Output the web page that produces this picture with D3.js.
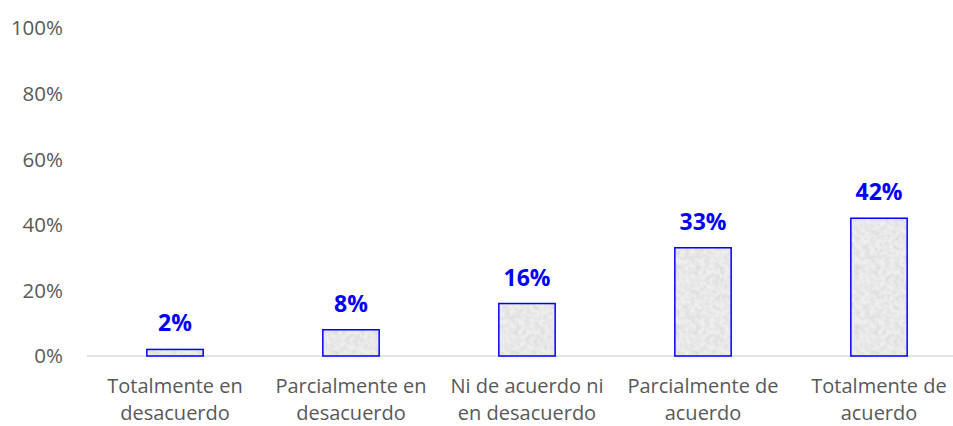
<!DOCTYPE html>
<html>
<head>
<meta charset="utf-8">
<script src="https://cdn.jsdelivr.net/npm/d3@7"></script>
<style>
  body { margin: 0; background: #fff; }
  text { font-family: "Open Sans", "Liberation Sans", sans-serif; }
</style>
</head>
<body>
<div id="chart"></div>
<script>
const categories = [
  ['Totalmente en', 'desacuerdo'],
  ['Parcialmente en', 'desacuerdo'],
  ['Ni de acuerdo ni', 'en desacuerdo'],
  ['Parcialmente de', 'acuerdo'],
  ['Totalmente de', 'acuerdo']
];
const values = [0.02, 0.08, 0.16, 0.33, 0.42];
const yTicks = [0, 0.2, 0.4, 0.6, 0.8, 1];

const width = 953, height = 426;
const svg = d3.select('#chart').append('svg')
  .attr('width', width)
  .attr('height', height);

// granite-like texture for the bars
const defs = svg.append('defs');
const filter = defs.append('filter').attr('id', 'grain')
  .attr('x', 0).attr('y', 0).attr('width', '100%').attr('height', '100%');
filter.append('feTurbulence')
  .attr('type', 'fractalNoise')
  .attr('baseFrequency', 0.2)
  .attr('numOctaves', 2)
  .attr('seed', 3)
  .attr('result', 'noise');
filter.append('feColorMatrix')
  .attr('in', 'noise')
  .attr('type', 'matrix')
  .attr('values', '0 0 0 0 0.72  0 0 0 0 0.72  0 0 0 0 0.72  0 0 0 -2.2 1.45');
const pattern = defs.append('pattern').attr('id', 'tex')
  .attr('patternUnits', 'userSpaceOnUse')
  .attr('width', 60).attr('height', 60);
pattern.append('rect').attr('width', 60).attr('height', 60).attr('fill', '#eeeeee');
pattern.append('rect').attr('width', 60).attr('height', 60).attr('filter', 'url(#grain)');

const x = d3.scaleBand()
  .domain(d3.range(categories.length))
  .range([87, 967])
  .paddingInner(0.68)
  .paddingOuter(0.34);

const y = d3.scaleLinear()
  .domain([0, 1])
  .range([356, 28]);

// y tick labels
svg.append('g')
  .selectAll('text')
  .data(yTicks)
  .enter().append('text')
  .attr('x', 63)
  .attr('y', d => y(d))
  .attr('dy', '0.36em')
  .attr('text-anchor', 'end')
  .attr('font-size', 20.5)
  .attr('fill', '#595959')
  .text(d => d3.format('.0%')(d));

// baseline
svg.append('line')
  .attr('x1', 87).attr('x2', 953)
  .attr('y1', y(0)).attr('y2', y(0))
  .attr('stroke', '#d9d9d9')
  .attr('stroke-width', 1.3);

// bars
svg.append('g')
  .selectAll('rect')
  .data(values)
  .enter().append('rect')
  .attr('x', (d, i) => x(i))
  .attr('y', d => y(d))
  .attr('width', x.bandwidth())
  .attr('height', d => y(0) - y(d))
  .attr('fill', 'url(#tex)')
  .attr('stroke', '#0000ff')
  .attr('stroke-width', 1.5);

// value labels
svg.append('g')
  .selectAll('text')
  .data(values)
  .enter().append('text')
  .attr('x', (d, i) => x(i) + x.bandwidth() / 2)
  .attr('y', d => y(d) - 18)
  .attr('text-anchor', 'middle')
  .attr('font-size', 23)
  .attr('font-weight', 'bold')
  .attr('fill', '#0000ff')
  .text(d => Math.round(d * 100) + '%');

// category labels
const cat = svg.append('g')
  .selectAll('text')
  .data(categories)
  .enter().append('text')
  .attr('x', (d, i) => x(i) + x.bandwidth() / 2)
  .attr('y', 393)
  .attr('text-anchor', 'middle')
  .attr('font-size', 20)
  .attr('fill', '#595959');
cat.selectAll('tspan')
  .data(d => d)
  .enter().append('tspan')
  .attr('x', function () { return d3.select(this.parentNode).attr('x'); })
  .attr('dy', (d, i) => i === 0 ? 0 : 26.5)
  .text(d => d);
</script>
</body>
</html>
